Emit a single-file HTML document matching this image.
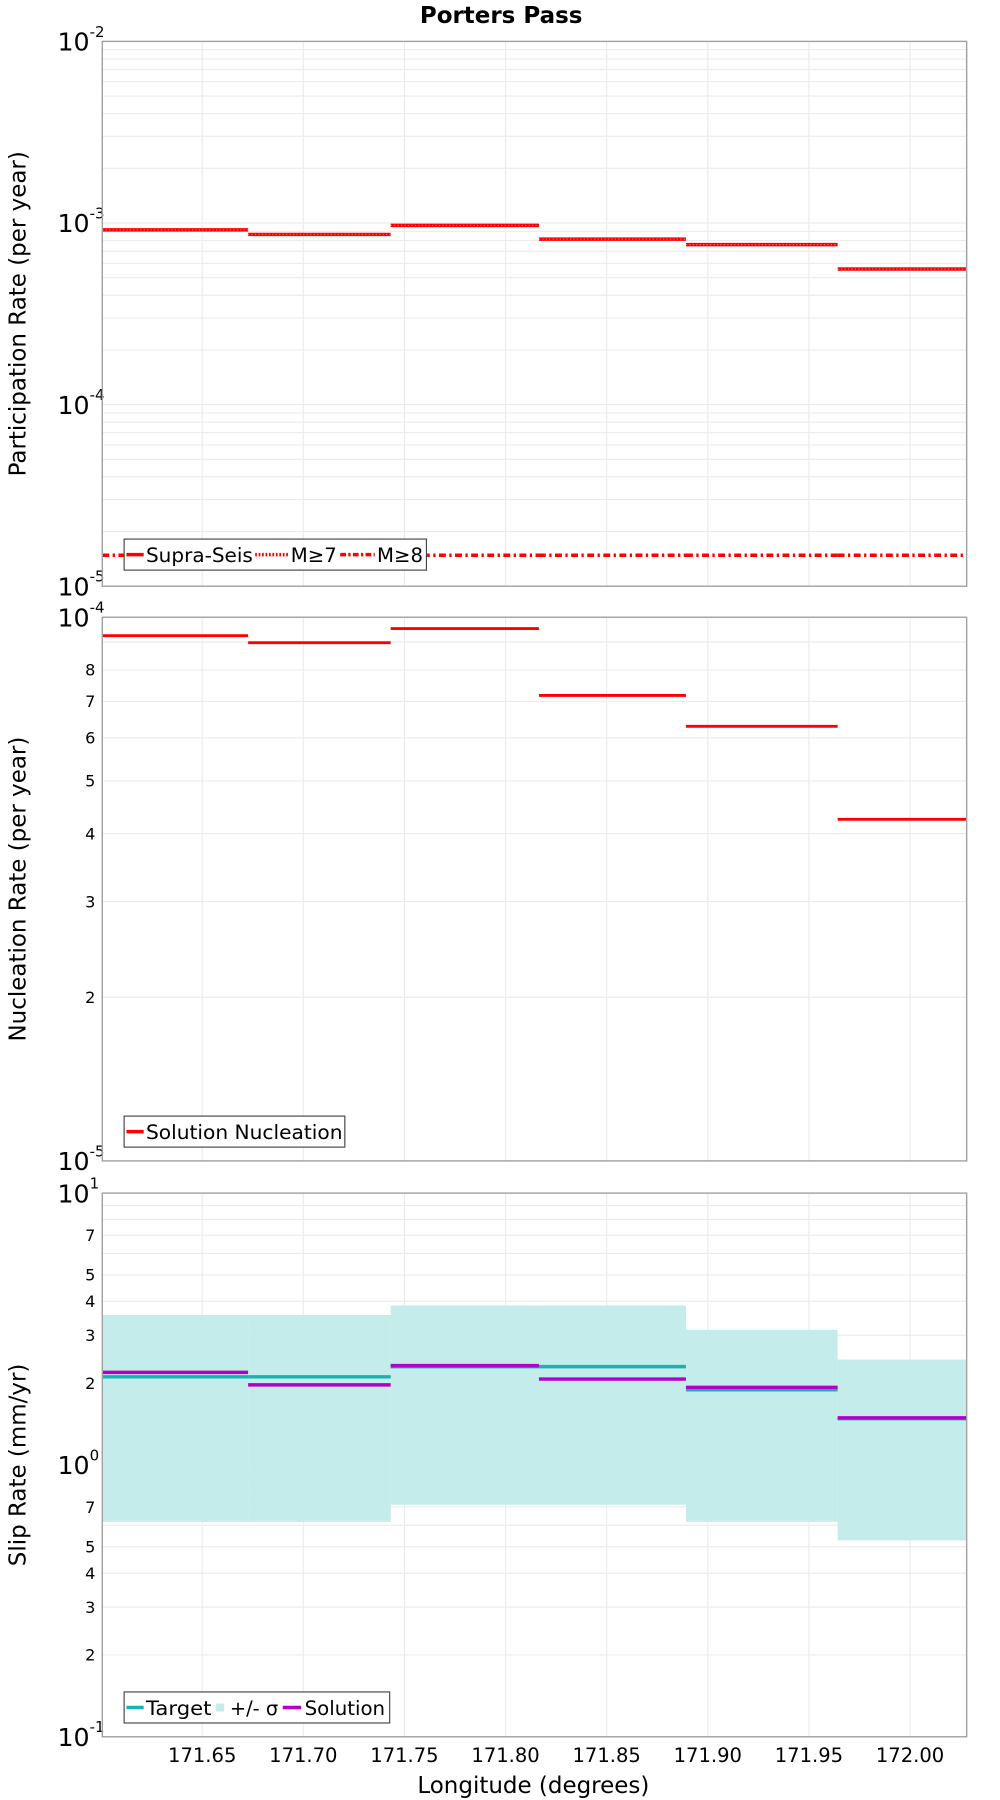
<!DOCTYPE html>
<html><head><meta charset="utf-8"><style>
html,body{margin:0;padding:0;background:#fff}
svg{display:block}
text{font-family:"DejaVu Sans","Liberation Sans",sans-serif;fill:#000}
</style></head><body>
<svg id="chart" width="1000" height="1800" viewBox="0 0 870 1566" xmlns="http://www.w3.org/2000/svg">
<text x="436" y="20" text-anchor="middle" font-size="20" font-weight="bold">Porters Pass</text>
<text x="464" y="1560" text-anchor="middle" font-size="20">Longitude (degrees)</text>
</svg>
<script>
// ---- data ----
const segBounds = [171.6006, 171.6727, 171.7432, 171.8165, 171.8892, 171.9642, 172.028];
const supraSeis = [9.16e-4, 8.65e-4, 9.7e-4, 8.15e-4, 7.6e-4, 5.58e-4];
const m7Rates = [9.16e-4, 8.65e-4, 9.7e-4, 8.15e-4, 7.6e-4, 5.58e-4];
const m8Rate = [1.48e-5, 1.48e-5, 1.48e-5, 1.48e-5, 1.48e-5, 1.48e-5];
const nucleation = [9.25e-5, 8.98e-5, 9.53e-5, 7.18e-5, 6.30e-5, 4.25e-5];
const targetSlip = [2.11, 2.11, 2.30, 2.30, 1.89, 1.48];
const solutionSlip = [2.19, 1.97, 2.32, 2.07, 1.93, 1.49];
const sigmaUpper = [3.56, 3.56, 3.86, 3.86, 3.14, 2.44];
const sigmaLower = [0.618, 0.618, 0.714, 0.714, 0.618, 0.528];
const xTicks = [171.65, 171.70, 171.75, 171.80, 171.85, 171.90, 171.95, 172.00];
const xTickLabels = ["171.65","171.70","171.75","171.80","171.85","171.90","171.95","172.00"];

const NS = "http://www.w3.org/2000/svg";
const svg = document.getElementById('chart');
const L = 89, R = 841, X0 = 171.6006, X1 = 172.028;
const xs = v => L + (v - X0) / (X1 - X0) * (R - L);
function el(tag, attrs, parent) {
  const e = document.createElementNS(NS, tag);
  for (const k in attrs) e.setAttribute(k, attrs[k]);
  (parent || svg).appendChild(e);
  return e;
}
const panels = [
  {name:'participation', top:36, bot:510, lo:-5, hi:-2, title:'Participation Rate (per year)', minorLabels:false},
  {name:'nucleation', top:537, bot:1010, lo:-5, hi:-4, title:'Nucleation Rate (per year)', minorLabels:[2,3,4,5,6,7,8]},
  {name:'slip-rate', top:1038, bot:1511, lo:-1, hi:1, title:'Slip Rate (mm/yr)', minorLabels:[2,3,4,5,7]}
];
panels.forEach(p => {
  p.y = v => p.bot - (Math.log10(v) - p.lo) / (p.hi - p.lo) * (p.bot - p.top);
  const g = el('g', {});
  
  
  for (let d = p.lo; d < p.hi; d++) {
    for (let m = 1; m < 10; m++) {
      const v = m * Math.pow(10, d);
      const yy = p.y(v);
      const gl = el('line', {x1:L, x2:R, y1:yy, y2:yy, stroke:'#ececec', 'stroke-width':1}, g);
      
      
      if (m > 1 && p.minorLabels && p.minorLabels.includes(m)) {
        const t = el('text', {x:83, y:yy + 5, 'text-anchor':'end', 'font-size':14}, g);
        t.textContent = m;
        
        
      }
    }
  }
  xTicks.forEach(v => {
    const gl = el('line', {x1:xs(v), x2:xs(v), y1:p.top, y2:p.bot, stroke:'#ececec', 'stroke-width':1}, g);
    
    
  });
  for (let d = p.lo; d <= p.hi; d++) {
    const yy = p.y(Math.pow(10, d));
    const t = el('text', {x:50, y:yy + 8, 'font-size':22}, g);
    
    
    t.textContent = '10';
    const s = el('tspan', {dy:-12, 'font-size':13}, t);
    s.textContent = String(d);
  }
  const ytl = el('text', {transform:`translate(22 ${(p.top + p.bot) / 2}) rotate(-90)`, 'text-anchor':'middle', 'font-size':20}, g);
  ytl.textContent = p.title;
  
  
  p.g = g;
});
function steps(p, vals, attrs, name) {
  vals.forEach((v, i) => {
    const ln = el('line', Object.assign({x1:xs(segBounds[i]), x2:xs(segBounds[i + 1]), y1:p.y(v), y2:p.y(v)}, attrs), p.g);
    
    
  });
}
const [P1, P2, P3] = panels;
steps(P1, supraSeis, {stroke:'#ff0000', 'stroke-width':3}, 'supra-seis-segment');
steps(P1, m7Rates, {stroke:'#ffffff', 'stroke-width':1, 'stroke-dasharray':'1 2', opacity:0.4}, 'm7-segment');
steps(P1, m8Rate, {stroke:'#ff0000', 'stroke-width':3, 'stroke-dasharray':'6 3 2 3'}, 'm8-segment');
steps(P2, nucleation, {stroke:'#ff0000', 'stroke-width':2.5}, 'nucleation-segment');
sigmaUpper.forEach((u, i) => {
  const r = el('rect', {x:xs(segBounds[i]), width:xs(segBounds[i + 1]) - xs(segBounds[i]), y:P3.y(u), height:P3.y(sigmaLower[i]) - P3.y(u), fill:'#c3ecea'}, P3.g);
  
  
});
steps(P3, targetSlip, {stroke:'#16b3b3', 'stroke-width':3}, 'target-segment');
steps(P3, solutionSlip, {stroke:'#b300c8', 'stroke-width':3}, 'solution-segment');
panels.forEach(p => {
  const b = el('rect', {x:L, y:p.top, width:R - L, height:p.bot - p.top, fill:'none', stroke:'#a0a0a0', 'stroke-width':1.2}, p.g);
  
  
});
xTicks.forEach((v, i) => {
  const t = el('text', {x:xs(v), y:1533, 'text-anchor':'middle', 'font-size':17}, svg);
  t.textContent = xTickLabels[i];
  
  
});
function legend(x, y, w, items, name) {
  const g = el('g', {});
  
  
  el('rect', {x:x, y:y, width:w, height:27, fill:'#fff', stroke:'#444', 'stroke-width':1}, g);
  items.forEach(it => {
    if (it.fill) el('rect', {x:it.sx, y:y + 10, width:7, height:7, fill:it.fill}, g);
    else el('line', {x1:it.sx, x2:it.ex, y1:y + 13.5, y2:y + 13.5, stroke:it.color, 'stroke-width':3, 'stroke-dasharray':it.dash || 'none'}, g);
    const t = el('text', {x:it.tx, y:y + 20, 'font-size':17, textLength:it.tl, lengthAdjust:'spacingAndGlyphs'}, g);
    t.textContent = it.label;
    
    
  });
}
legend(108, 469, 263, [
  {color:'#f00', label:'Supra-Seis', sx:110, ex:125, tx:127, tl:93},
  {color:'#f00', dash:'1.5 1.5', label:'M≥7', sx:222, ex:252, tx:253, tl:40},
  {color:'#f00', dash:'5 2 2 2', label:'M≥8', sx:296, ex:326, tx:328, tl:40}], 'participation-legend');
legend(108, 971, 192, [{color:'#f00', label:'Solution Nucleation', sx:110, ex:125, tx:127, tl:171}], 'nucleation-legend');
legend(108, 1472, 231, [
  {color:'#16b3b3', label:'Target', sx:110, ex:125, tx:127, tl:57},
  {fill:'#c3ecea', label:'+/- σ', sx:188, tx:200, tl:42},
  {color:'#b300c8', label:'Solution', sx:246, ex:262, tx:265, tl:70}], 'slip-legend');
</script>
</body></html>
